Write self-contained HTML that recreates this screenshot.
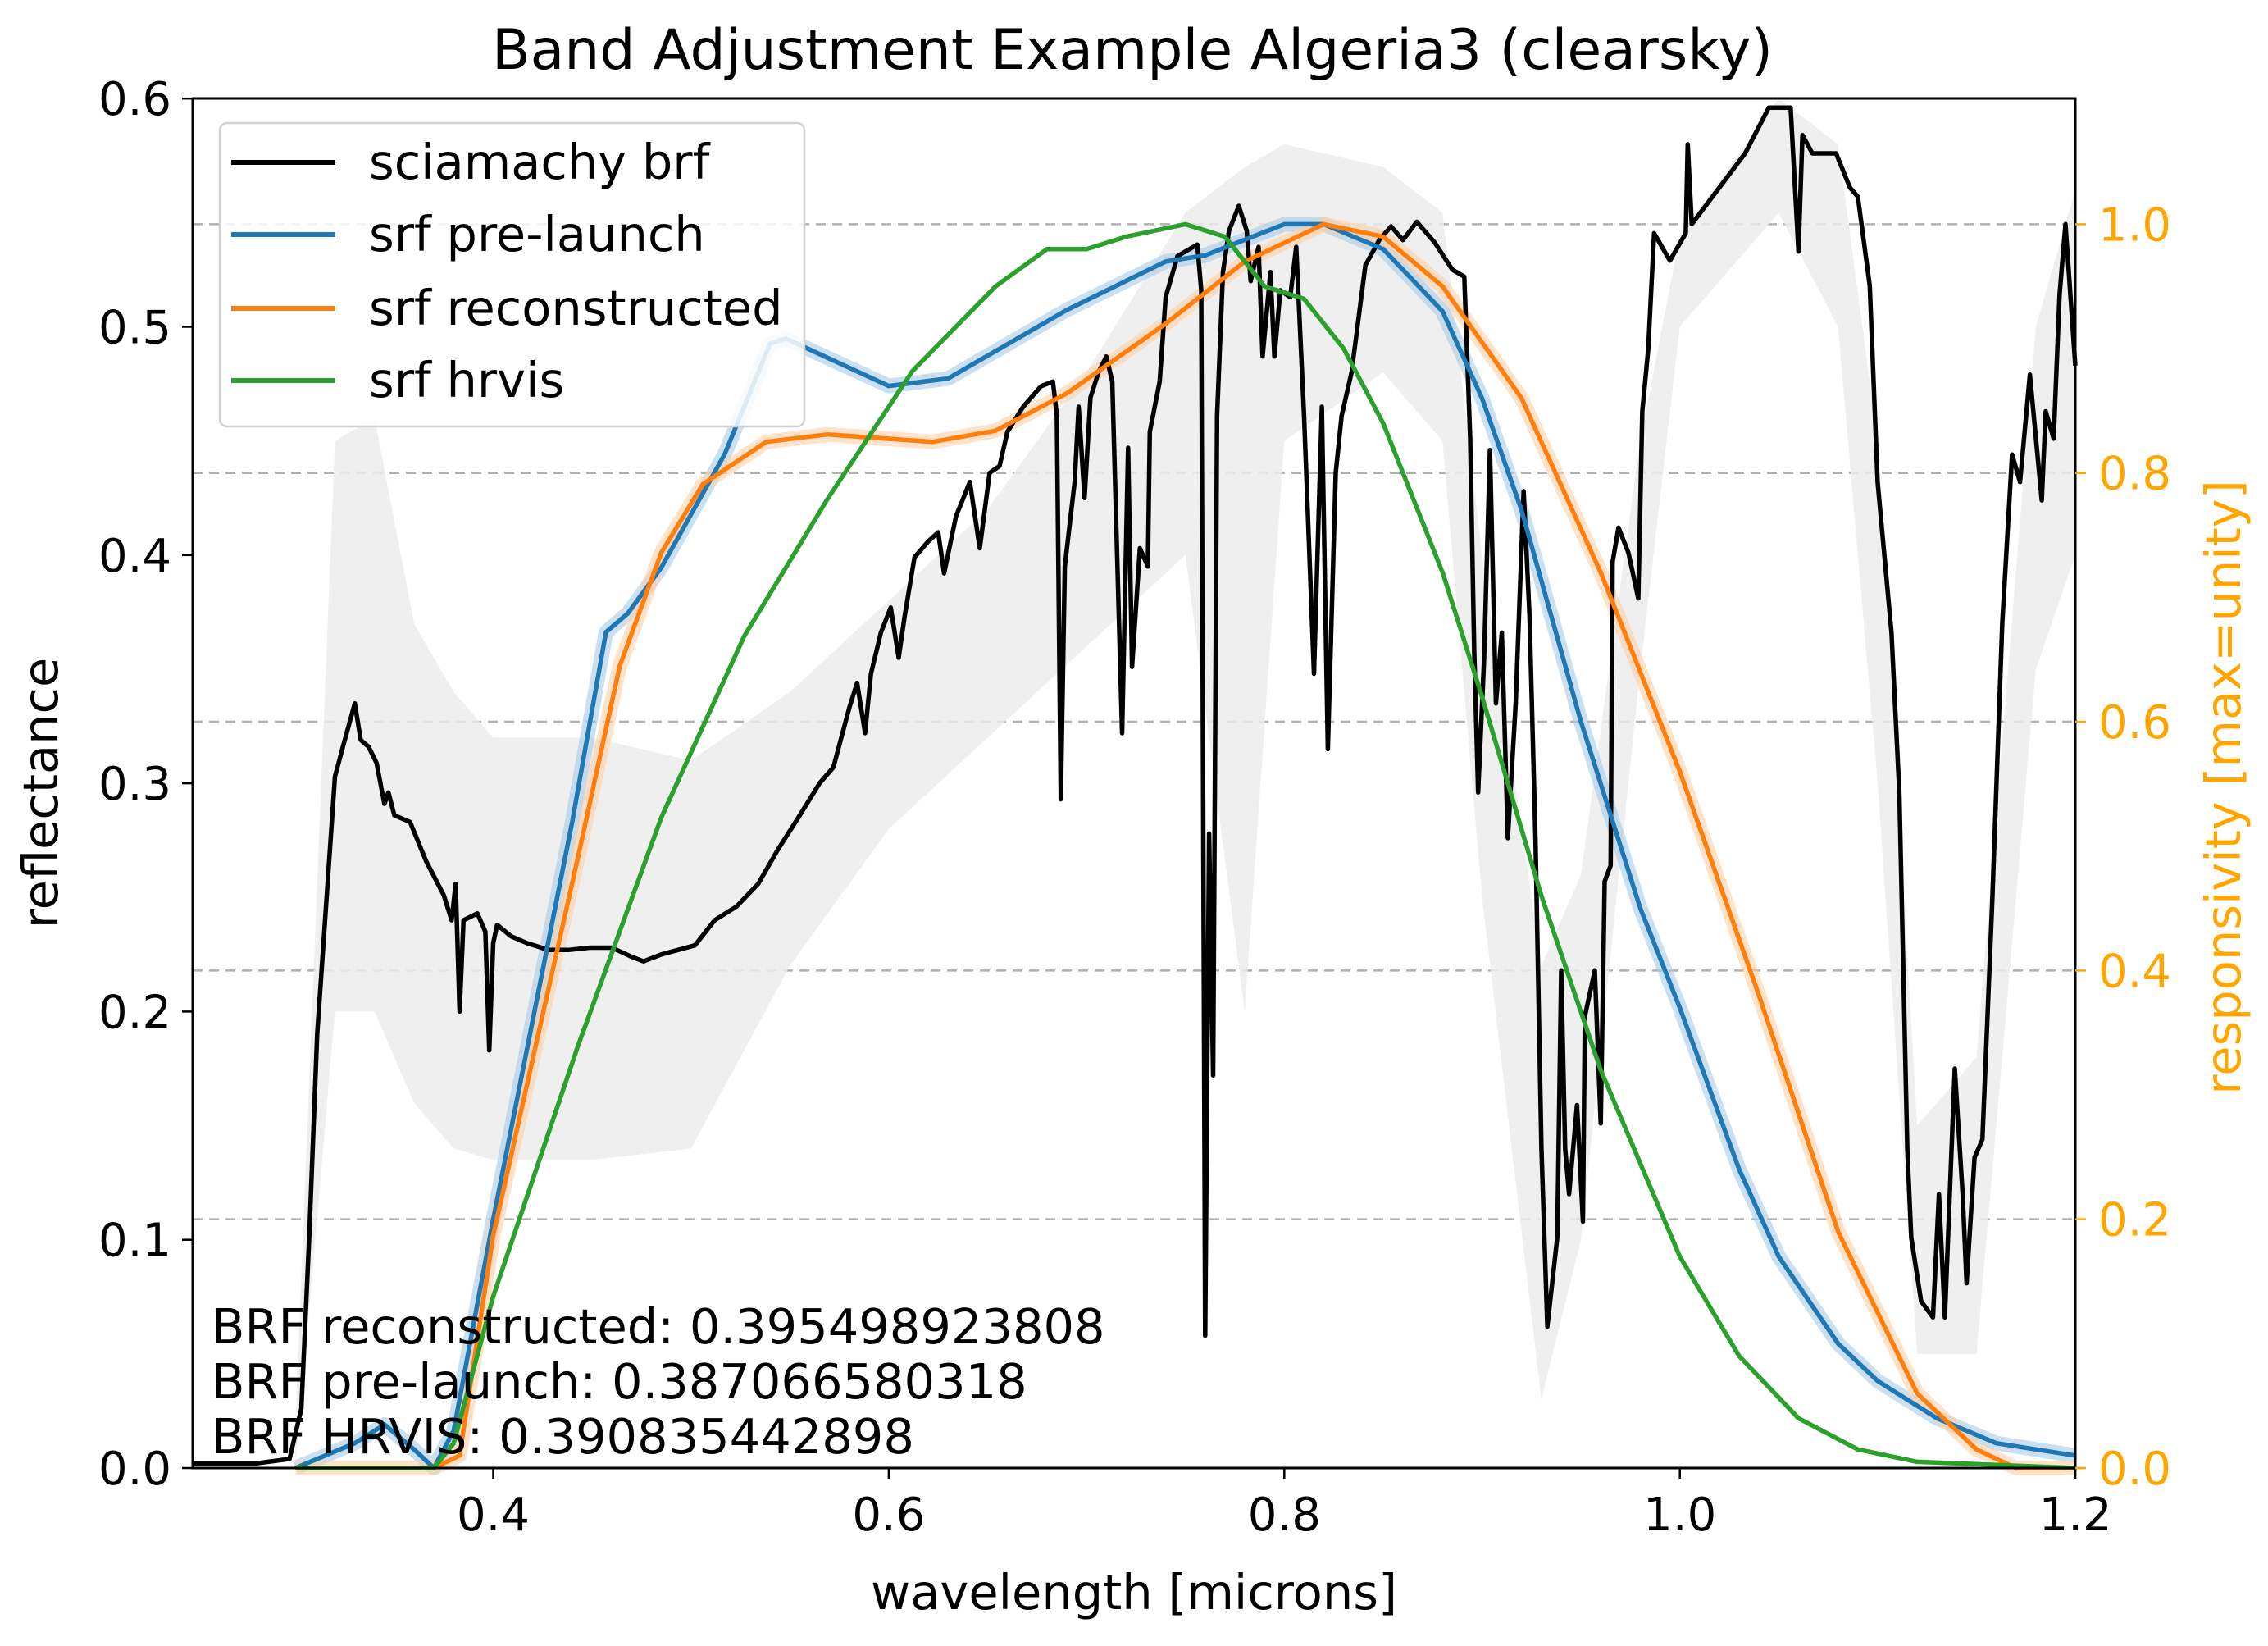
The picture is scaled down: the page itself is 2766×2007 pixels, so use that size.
<!DOCTYPE html>
<html><head><meta charset="utf-8"><style>
html,body{margin:0;padding:0;background:#fff;}
svg{display:block;font-family:"DejaVu Sans","Liberation Sans",sans-serif;}
</style></head><body>
<svg id="chart" width="2766" height="2007" viewBox="0 0 2766 2007" xmlns="http://www.w3.org/2000/svg">
<rect x="0" y="0" width="2766" height="2007" fill="#fff"/>
<text x="1381" y="84" font-size="68" text-anchor="middle" fill="#000">Band Adjustment Example Algeria3 (clearsky)</text>
<g id="grid"></g><g id="bands"></g><g id="lines"></g><g id="axes"></g>
<g>
<rect x="268" y="150" width="713" height="370" rx="9" fill="#fff" fill-opacity="0.85" stroke="#d0d0d0" stroke-width="2.5"/>
<line x1="282" y1="198" x2="409" y2="198" stroke="#000" stroke-width="6"/>
<text x="450" y="218" font-size="59">sciamachy brf</text>
<line x1="282" y1="286" x2="409" y2="286" stroke="#1f77b4" stroke-width="6"/>
<text x="450" y="306" font-size="59">srf pre-launch</text>
<line x1="282" y1="376" x2="409" y2="376" stroke="#ff7f0e" stroke-width="6"/>
<text x="450" y="396" font-size="59">srf reconstructed</text>
<line x1="282" y1="464" x2="409" y2="464" stroke="#2ca02c" stroke-width="6"/>
<text x="450" y="484" font-size="59">srf hrvis</text>
</g>
<text x="258" y="1638" font-size="59">BRF reconstructed: 0.395498923808</text>
<text x="258" y="1705" font-size="59">BRF pre-launch: 0.387066580318</text>
<text x="258" y="1772" font-size="59">BRF HRVIS: 0.390835442898</text>
<text x="1383" y="1962" font-size="59" text-anchor="middle">wavelength [microns]</text>
<text x="0" y="0" font-size="59" text-anchor="middle" transform="translate(70,967) rotate(-90)">reflectance</text>
<text x="0" y="0" font-size="59" text-anchor="middle" fill="#ffa500" transform="translate(2732,960) rotate(-90)">responsivity [max=unity]</text>
</svg>
<script>
const xTicks=[0.4,0.6,0.8,1.0,1.2];
const yTicks=[0.0,0.1,0.2,0.3,0.4,0.5,0.6];
const rTicks=[0.0,0.2,0.4,0.6,0.8,1.0];
const sciaWl=[0.248,0.280,0.297,0.303,0.307,0.311,0.316,0.320,0.324,0.330,0.333,0.337,0.341,0.345,0.347,0.350,0.358,0.366,0.375,0.379,0.381,0.383,0.385,0.392,0.396,0.398,0.400,0.402,0.409,0.417,0.428,0.438,0.449,0.460,0.470,0.476,0.485,0.502,0.512,0.523,0.534,0.544,0.555,0.565,0.572,0.580,0.584,0.588,0.591,0.596,0.601,0.605,0.608,0.613,0.620,0.625,0.628,0.634,0.641,0.646,0.651,0.656,0.660,0.668,0.677,0.683,0.685,0.687,0.689,0.694,0.696,0.699,0.702,0.706,0.710,0.713,0.718,0.721,0.723,0.727,0.731,0.732,0.737,0.740,0.746,0.756,0.758,0.760,0.762,0.764,0.766,0.769,0.772,0.777,0.781,0.783,0.787,0.789,0.793,0.795,0.798,0.803,0.806,0.810,0.815,0.819,0.822,0.826,0.829,0.834,0.841,0.848,0.854,0.860,0.867,0.876,0.885,0.891,0.894,0.896,0.898,0.901,0.904,0.907,0.910,0.913,0.917,0.921,0.924,0.927,0.930,0.933,0.938,0.940,0.942,0.944,0.948,0.951,0.952,0.957,0.960,0.962,0.965,0.966,0.969,0.974,0.979,0.981,0.984,0.987,0.995,1.003,1.004,1.006,1.020,1.033,1.045,1.056,1.060,1.062,1.067,1.079,1.086,1.090,1.096,1.100,1.107,1.111,1.115,1.117,1.122,1.128,1.131,1.134,1.139,1.143,1.145,1.149,1.153,1.158,1.163,1.168,1.172,1.177,1.183,1.185,1.189,1.192,1.195,1.200];
const sciaRefl=[0.002,0.002,0.004,0.026,0.102,0.190,0.253,0.303,0.316,0.335,0.319,0.316,0.309,0.291,0.296,0.286,0.283,0.266,0.251,0.240,0.256,0.200,0.240,0.243,0.235,0.183,0.230,0.238,0.233,0.230,0.227,0.227,0.228,0.228,0.224,0.222,0.225,0.229,0.240,0.246,0.256,0.271,0.286,0.300,0.307,0.333,0.344,0.322,0.348,0.366,0.377,0.355,0.373,0.399,0.406,0.410,0.392,0.417,0.432,0.403,0.436,0.439,0.454,0.465,0.474,0.476,0.461,0.293,0.395,0.432,0.465,0.425,0.469,0.480,0.487,0.476,0.322,0.447,0.351,0.403,0.395,0.454,0.476,0.513,0.531,0.536,0.516,0.058,0.278,0.172,0.461,0.524,0.542,0.553,0.542,0.520,0.535,0.487,0.524,0.487,0.516,0.513,0.535,0.461,0.348,0.465,0.315,0.436,0.461,0.480,0.527,0.538,0.544,0.538,0.546,0.537,0.525,0.522,0.451,0.358,0.296,0.354,0.446,0.335,0.366,0.276,0.335,0.428,0.373,0.276,0.140,0.062,0.101,0.218,0.140,0.120,0.159,0.108,0.198,0.218,0.151,0.257,0.264,0.397,0.412,0.401,0.381,0.463,0.490,0.541,0.529,0.541,0.580,0.545,0.561,0.576,0.596,0.596,0.533,0.584,0.576,0.576,0.561,0.557,0.518,0.432,0.366,0.296,0.140,0.101,0.073,0.066,0.120,0.066,0.175,0.120,0.081,0.136,0.144,0.249,0.370,0.444,0.432,0.479,0.424,0.463,0.451,0.514,0.545,0.483];
const bandWl=[0.30,0.32,0.34,0.36,0.38,0.40,0.45,0.50,0.55,0.60,0.65,0.70,0.75,0.78,0.80,0.85,0.88,0.90,0.93,0.95,0.98,1.00,1.05,1.08,1.10,1.12,1.15,1.18,1.20];
const bandUpper=[0.02,0.45,0.46,0.37,0.34,0.32,0.32,0.31,0.34,0.38,0.42,0.48,0.55,0.57,0.58,0.57,0.55,0.40,0.22,0.26,0.45,0.54,0.60,0.58,0.45,0.15,0.18,0.50,0.56];
const bandLower=[0.0,0.20,0.20,0.16,0.14,0.135,0.135,0.14,0.22,0.28,0.32,0.36,0.40,0.20,0.45,0.48,0.45,0.25,0.03,0.10,0.35,0.50,0.55,0.50,0.30,0.05,0.05,0.35,0.40];
const preWl=[0.30,0.33,0.345,0.36,0.37,0.38,0.40,0.42,0.44,0.457,0.468,0.485,0.517,0.540,0.548,0.60,0.63,0.69,0.74,0.76,0.80,0.82,0.85,0.88,0.90,0.92,0.95,0.98,1.00,1.03,1.05,1.08,1.10,1.13,1.16,1.20];
const preResp=[0.0,0.02,0.035,0.015,0.0,0.03,0.20,0.36,0.52,0.672,0.687,0.724,0.815,0.904,0.908,0.870,0.876,0.931,0.97,0.975,1.0,1.0,0.98,0.93,0.86,0.77,0.60,0.45,0.37,0.24,0.17,0.10,0.07,0.04,0.02,0.01];
const recWl=[0.30,0.37,0.383,0.40,0.443,0.464,0.485,0.506,0.538,0.569,0.622,0.654,0.690,0.74,0.78,0.82,0.85,0.88,0.92,0.96,1.00,1.04,1.08,1.12,1.15,1.17,1.20];
const recResp=[0.0,0.0,0.01,0.187,0.492,0.645,0.736,0.791,0.825,0.831,0.825,0.834,0.864,0.92,0.97,1.0,0.99,0.95,0.86,0.72,0.56,0.38,0.19,0.06,0.015,0.0,0.0];
const hrvWl=[0.30,0.37,0.38,0.40,0.443,0.485,0.527,0.569,0.612,0.654,0.68,0.70,0.72,0.75,0.77,0.79,0.81,0.83,0.85,0.88,0.90,0.93,0.96,1.00,1.03,1.06,1.09,1.12,1.20];
const hrvResp=[0.0,0.0,0.02,0.138,0.34,0.523,0.669,0.779,0.882,0.95,0.98,0.98,0.99,1.0,0.99,0.95,0.94,0.90,0.84,0.72,0.62,0.46,0.32,0.17,0.09,0.04,0.015,0.005,0.0];

const NS="http://www.w3.org/2000/svg";
const L=235,R=2531,T=120,B=1790;
function xs(w){return 601.5+(w-0.4)*2412;}
function ys(v){return B-v*2783;}
function yr(v){return B-v*1516.6;}
function mk(tag,attrs,parent){const e=document.createElementNS(NS,tag);for(const k in attrs)e.setAttribute(k,attrs[k]);parent.appendChild(e);return e;}
const grid=document.getElementById('grid'),bands=document.getElementById('bands'),lines=document.getElementById('lines'),axes=document.getElementById('axes');

rTicks.forEach(t=>{if(t===0)return;
 const g=mk('line',{x1:L,x2:R,y1:yr(t),y2:yr(t),stroke:'#b0b0b0','stroke-width':2.5,'stroke-dasharray':'12,8'},grid);
 
 
});
function clipX(w){return Math.max(L,Math.min(R,xs(w)));}
let d='';
bandWl.forEach((w,i)=>{d+=(i?'L':'M')+clipX(w)+','+ys(bandUpper[i]);});
for(let i=bandWl.length-1;i>=0;i--)d+='L'+clipX(bandWl[i])+','+ys(bandLower[i]);
const band=mk('path',{d:d+'Z',fill:'#ececec','fill-opacity':0.85},bands);



function path(ws,vs,fy){return ws.map((w,i)=>(i?'L':'M')+clipX(w).toFixed(1)+','+fy(vs[i]).toFixed(1)).join('');}
const preBand=mk('path',{d:path(preWl,preResp,yr),fill:'none',stroke:'#a6cbe6','stroke-opacity':0.6,'stroke-width':18,'stroke-linejoin':'round'},bands);


const recBand=mk('path',{d:path(recWl,recResp,yr),fill:'none',stroke:'#ffcfa6','stroke-opacity':0.6,'stroke-width':18,'stroke-linejoin':'round'},bands);



const scia=mk('path',{d:path(sciaWl,sciaRefl,ys),fill:'none',stroke:'#000','stroke-width':5.5,'stroke-linejoin':'round'},lines);


const pre=mk('path',{d:path(preWl,preResp,yr),fill:'none',stroke:'#1f77b4','stroke-width':5.5,'stroke-linejoin':'round'},lines);


const rec=mk('path',{d:path(recWl,recResp,yr),fill:'none',stroke:'#ff7f0e','stroke-width':5.5,'stroke-linejoin':'round'},lines);


const hrv=mk('path',{d:path(hrvWl,hrvResp,yr),fill:'none',stroke:'#2ca02c','stroke-width':5.5,'stroke-linejoin':'round'},lines);



const frame=mk('rect',{x:L,y:T,width:R-L,height:B-T,fill:'none',stroke:'#000','stroke-width':3},axes);


xTicks.forEach(t=>{
 mk('line',{x1:xs(t),x2:xs(t),y1:B,y2:B+13,stroke:'#000','stroke-width':2.5},axes);
 const tx=mk('text',{x:xs(t),y:B+76,'font-size':56,'text-anchor':'middle'},axes);
 tx.textContent=t.toFixed(1);
 
 
});
yTicks.forEach(t=>{
 mk('line',{x1:L-13,x2:L,y1:ys(t),y2:ys(t),stroke:'#000','stroke-width':2.5},axes);
 const tx=mk('text',{x:L-26,y:ys(t)+20,'font-size':56,'text-anchor':'end'},axes);
 tx.textContent=t.toFixed(1);
 
 
});
rTicks.forEach(t=>{
 mk('line',{x1:R,x2:R+13,y1:yr(t),y2:yr(t),stroke:'#ffa500','stroke-width':2.5},axes);
 const tx=mk('text',{x:R+28,y:yr(t)+20,'font-size':56,'text-anchor':'start',fill:'#ffa500'},axes);
 tx.textContent=t.toFixed(1);
 
 
});
</script>
</body></html>
